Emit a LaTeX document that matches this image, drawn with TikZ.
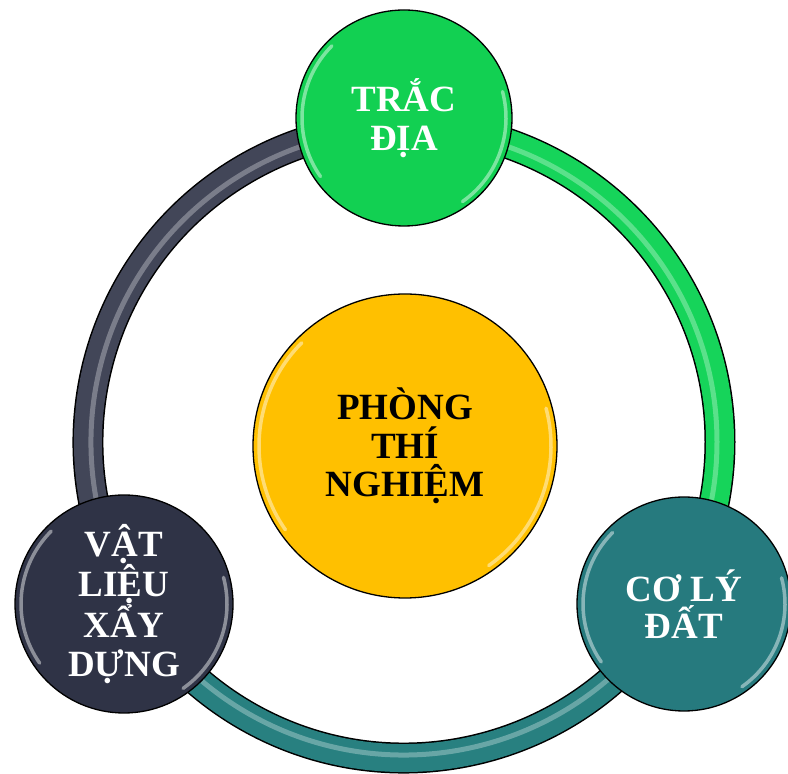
\documentclass[tikz,border=0pt]{standalone}
\usepackage{fontspec}
\setmainfont{Liberation Serif}
\definecolor{tracgreen}{RGB}{18,208,82}
\definecolor{phongyellow}{RGB}{255,192,0}
\definecolor{colyteal}{RGB}{38,122,126}
\definecolor{vlnavy}{RGB}{47,51,70}
\definecolor{ringnavy}{RGB}{66,70,88}
\definecolor{ringteal}{RGB}{40,128,128}
\definecolor{ringgreen}{RGB}{22,212,90}
\tikzset{
  bubble/.style={circle, draw=black, line width=1.3pt, inner sep=0pt,
    minimum size=216pt, align=center,
    font=\bfseries\fontsize{37}{38.5}\selectfont},
  shine/.style={white, opacity=.45, line width=3.5pt, line cap=round}
}
\begin{document}
\begin{tikzpicture}[x=1pt,y=1pt]
    \useasboundingbox (0,0) rectangle (788,774);

    % ring
    \coordinate (ring) at (404,332);
    \foreach \a/\b/\c in {90/-30/ringgreen, -30/-150/ringteal, 210/90/ringnavy}{
        \draw [line width=31pt] ([shift={(\a:316)}]ring) arc [start angle=\a, end angle=\b, radius=316];
        \draw [line width=28pt, \c] ([shift={(\a:316)}]ring) arc [start angle=\a, end angle=\b, radius=316];
        \draw [line width=5pt, \c!50!white, opacity=.6] ([shift={(\a:313)}]ring) arc [start angle=\a, end angle=\b, radius=313];
    }

    % circles
    \node [bubble, fill=phongyellow, minimum size=304pt] (phong) at (405,328) {PHÒNG\\THÍ\\NGHIỆM};
    \node [bubble, fill=tracgreen, text=white] (trac) at (404,656) {TRẮC\\ĐỊA};
    \node [bubble, fill=vlnavy, text=white, minimum size=218pt] (vatlieu) at (124,170) {VẬT\\LIỆU\\XẨY\\DỰNG};
    \node [bubble, fill=colyteal, text=white, minimum size=214pt] (coly) at (684,170) {CƠ LÝ\\[-2pt]ĐẤT};

    % shine
    \foreach \n/\r in {trac/102, vatlieu/103, coly/101, phong/146}{
        \draw [shine] ([shift={(135:\r)}]\n.center) arc [start angle=135, end angle=215, radius=\r];
        \draw [shine] ([shift={(-55:\r)}]\n.center) arc [start angle=-55, end angle=15, radius=\r];
    }

\end{tikzpicture}
\end{document}
